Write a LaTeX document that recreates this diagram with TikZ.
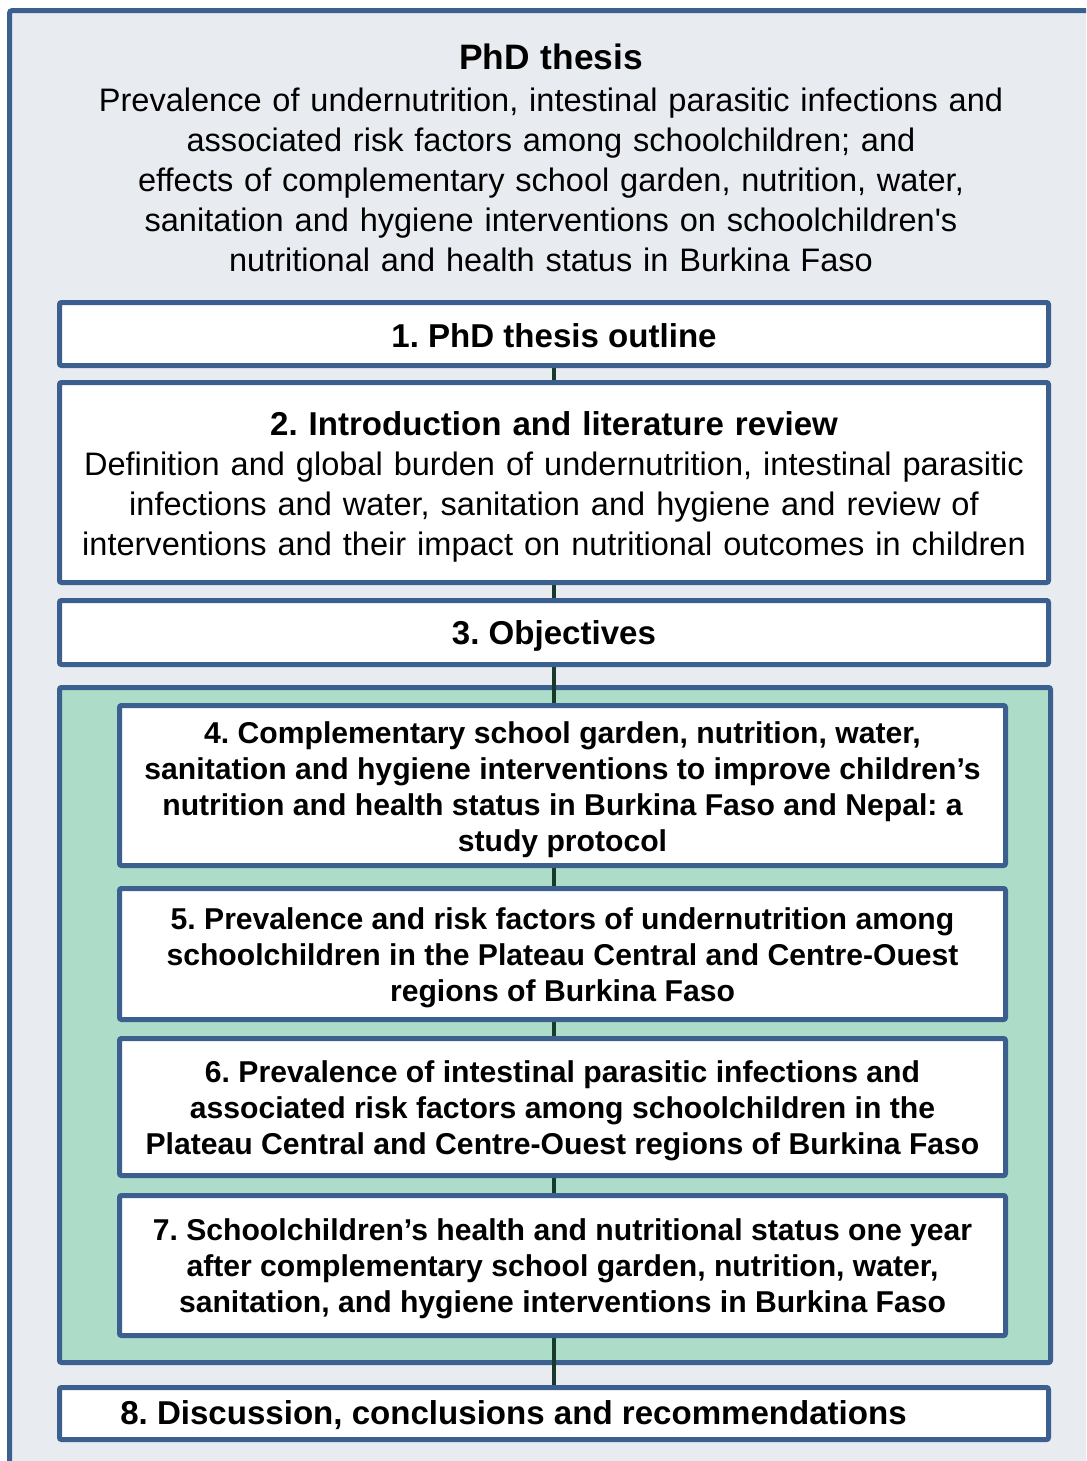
\documentclass[tikz,border=0pt]{standalone}
\usepackage{fontspec}
\setmainfont{Liberation Sans}[Ligatures=TeXOff]
\frenchspacing
\pgfdeclarelayer{back}
\pgfdeclarelayer{mid}
\pgfsetlayers{back,mid,main}
\definecolor{frameblue}{HTML}{3B5F8F}
\definecolor{panelgrey}{HTML}{E8EBF0}
\definecolor{mint}{HTML}{ADDDC8}
\definecolor{spine}{HTML}{183A2A}
\tikzset{
  px/.style={x=0.75pt,y=-0.75pt},
  boxline/.style={draw=frameblue, line width=3.75pt, rounded corners=1.5pt, inner sep=0pt},
  chapter/.style={boxline, fill=white},
  part/.style={boxline, fill=mint},
  headtext/.style={inner sep=0pt, align=center, font=\fontsize{24.8}{30}\selectfont\bfseries},
  papertext/.style={inner sep=0pt, align=center, font=\fontsize{22.6}{27}\selectfont\bfseries},
  spineline/.style={draw=spine, line width=3pt}
}
\begin{document}
\begin{tikzpicture}[px]
\useasboundingbox (0,0) rectangle (1086,1461);
\begin{pgfonlayer}{back}
  \fill[white] (0,0) rectangle (1086,1461);
  % outer panel, running off the right and bottom edges
  \begin{scope}
    \clip (0,0) rectangle (1086,1461);
    \draw[draw=frameblue, fill=panelgrey, line width=3.75pt, rounded corners=2pt]
      (9.5,10.5) rectangle (1110,1490);
  \end{scope}
  % green panel holding the four papers
  \node[part, minimum width={991*0.75pt}, minimum height={675*0.75pt}] (papers) at (555,1025) {};
\end{pgfonlayer}

% thesis title
\node[align=center, inner sep=0pt, text width={1000*0.75pt}, font=\fontsize{24.4}{30}\selectfont] (title) at (551,158)
  {{\fontsize{26.5}{30}\selectfont\bfseries PhD thesis}\\[1.5pt]
   Prevalence of undernutrition, intestinal parasitic infections and\\
   associated risk factors among schoolchildren; and\\
   effects of complementary school garden, nutrition, water,\\
   sanitation and hygiene interventions on schoolchildren's\\
   nutritional and health status in Burkina Faso};

% chapter boxes
\node[chapter, minimum width={989*0.75pt}, minimum height={63*0.75pt}] (c1) at (554,334) {};
\node[chapter, minimum width={989*0.75pt}, minimum height={200*0.75pt}] (c2) at (554,482.5) {};
\node[chapter, minimum width={989*0.75pt}, minimum height={64*0.75pt}] (c3) at (554,632.5) {};
\node[chapter, minimum width={886*0.75pt}, minimum height={160*0.75pt}] (c4) at (562.5,785.5) {};
\node[chapter, minimum width={886*0.75pt}, minimum height={131*0.75pt}] (c5) at (562.5,954) {};
\node[chapter, minimum width={886*0.75pt}, minimum height={137*0.75pt}] (c6) at (562.5,1107) {};
\node[chapter, minimum width={886*0.75pt}, minimum height={140*0.75pt}] (c7) at (562.5,1265.5) {};
\node[chapter, minimum width={989*0.75pt}, minimum height={52*0.75pt}] (c8) at (554,1413.5) {};

% chapter texts
\node[headtext, yshift=-1pt] (t1) at (c1.center) {1. PhD thesis outline};
\node[headtext, text width={970*0.75pt}, yshift=-3pt] (t2) at (c2.center)
  {2. Introduction and literature review\\
   {\mdseries\fontsize{24.4}{30}\selectfont Definition and global burden of undernutrition, intestinal parasitic\\
   infections and water, sanitation and hygiene and review of\\
   interventions and their impact on nutritional outcomes in children\par}};
\node[headtext, yshift=-2.5pt] (t3) at (c3.center) {3. Objectives};
\node[papertext, yshift=-3pt] (t4) at (c4.center)
  {4. Complementary school garden, nutrition, water,\\
   sanitation and hygiene interventions to improve children’s\\
   nutrition and health status in Burkina Faso and Nepal: a\\
   study protocol};
\node[papertext, yshift=-3pt] (t5) at (c5.center)
  {5. Prevalence and risk factors of undernutrition among\\
   schoolchildren in the Plateau Central and Centre-Ouest\\
   regions of Burkina Faso};
\node[papertext, yshift=-2.5pt] (t6) at (c6.center)
  {6. Prevalence of intestinal parasitic infections and\\
   associated risk factors among schoolchildren in the\\
   Plateau Central and Centre-Ouest regions of Burkina Faso};
\node[papertext, yshift=-2.5pt] (t7) at (c7.center)
  {7. Schoolchildren’s health and nutritional status one year\\
   after complementary school garden, nutrition, water,\\
   sanitation, and hygiene interventions in Burkina Faso};
\node[headtext, xshift={-40.5*0.75pt}, yshift=-1.5pt] (t8) at (c8.center)
  {8. Discussion, conclusions and recommendations};

% spine linking the chapters
\begin{pgfonlayer}{mid}
  \draw[spineline] (c1.south) -- (c8.north);
\end{pgfonlayer}
\end{tikzpicture}
\end{document}
